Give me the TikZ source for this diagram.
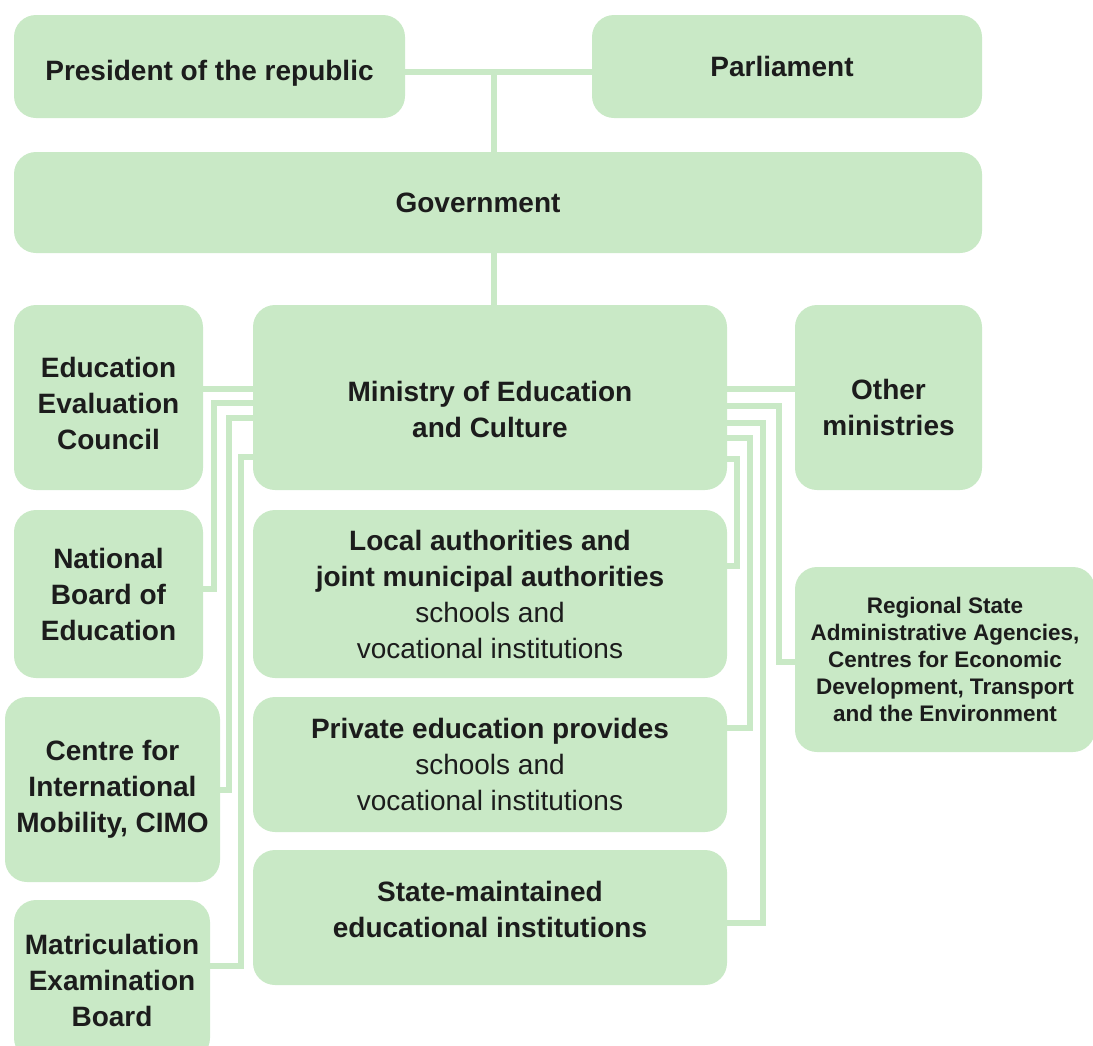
\documentclass[tikz,border=0pt]{standalone}
\usepackage{fontspec}
\setmainfont{Liberation Sans}
\usepackage{tikz}
\pgfdeclarelayer{bg}
\pgfsetlayers{bg,main}
\definecolor{boxgreen}{RGB}{201,233,198}
\definecolor{inkdark}{RGB}{28,28,28}
\tikzset{
    every node/.style={rectangle, rounded corners=22pt, fill=boxgreen, draw=none, inner sep=0mm, align=center, text=inkdark, font=\fontsize{28}{36}\selectfont\bfseries}
}
\tikzset{link/.style={draw=boxgreen, line width=6.5pt}}
\newcommand{\plaintxt}{\normalfont\fontsize{28}{35}\selectfont}
\newcommand{\pushdown}[1]{\rule{0pt}{#1}}
\newcommand{\pushup}[1]{\rule[-#1]{0pt}{#1}}

\begin{document}
\begin{tikzpicture}[x=1pt, y=-1pt]
        \useasboundingbox (0,0) rectangle (1093,1045);
        \node (pres) [minimum width=391, minimum height=103] at (209.5, 66.5) {\pushdown{34pt}President of the republic};
        \node (par) [minimum width=390, minimum height=103] at (787, 66.5) {Parliament\hspace*{10pt}};
        \node (gov) [minimum width=968, minimum height=101] at (498, 202.5) {Government\hspace*{40pt}};
        \node (eec) [minimum width=189, minimum height=185] at (108.5, 397.5) {\pushdown{32pt}Education\\Evaluation\\Council};
        \node (min) [minimum width=474, minimum height=185] at (490, 397.5) {\pushdown{44pt}Ministry of Education\\and Culture};
        \node (oth) [minimum width=187, minimum height=185] at (888.5, 397.5) {\pushdown{40pt}Other\\ministries};
        \node (nbe) [minimum width=189, minimum height=168] at (108.5, 594) {National\\Board of\\Education};
        \node (loc) [minimum width=474, minimum height=168] at (490, 594) {Local authorities and\\joint municipal authorities\\{\plaintxt schools and}\\{\plaintxt vocational institutions}};
        \node (reg) [minimum width=300, minimum height=185, font=\fontsize{22.5}{27}\selectfont\bfseries] at (945, 659.5) {Regional State\\Administrative Agencies,\\Centres for Economic\\Development, Transport\\and the Environment};
        \node (cimo) [minimum width=215, minimum height=185] at (112.5, 789.5) {Centre for\\International\\Mobility, CIMO};
        \node (priv) [minimum width=474, minimum height=135] at (490, 764.5) {Private education provides\\{\plaintxt schools and}\\{\plaintxt vocational institutions}};
        \node (state) [minimum width=474, minimum height=135] at (490, 917.5) {State-maintained\\educational institutions\pushup{16pt}};
        \node (meb) [minimum width=196, minimum height=160] at (112, 980) {Matriculation\\Examination\\Board};
        \coordinate (j) at (494, 72);
        \begin{pgfonlayer}{bg}
                % top
                \draw [link] (pres.east |- j) -- (par.west |- j);
                \draw [link] (j) -- (j |- gov.north);
                \draw [link] (gov.south -| j) -- (j |- min.north);
                % left side
                \draw [link] (eec.east |- 0,389) -- (min.west |- 0,389);
                \draw [link] (min.west |- 0,403) -- (214,403) |- (nbe.east |- 0,589);
                \draw [link] (min.west |- 0,418) -- (229,418) |- (cimo.east |- 0,790);
                \draw [link] (min.west |- 0,457) -- (241,457) |- (meb.east |- 0,966);
                % right side
                \draw [link] (min.east |- 0,389) -- (oth.west |- 0,389);
                \draw [link] (min.east |- 0,406) -- (779,406) |- (reg.west |- 0,662);
                \draw [link] (min.east |- 0,423) -- (763,423) |- (state.east |- 0,923);
                \draw [link] (min.east |- 0,438) -- (750,438) |- (priv.east |- 0,728);
                \draw [link] (min.east |- 0,459) -- (737,459) |- (loc.east |- 0,566);
        \end{pgfonlayer}
\end{tikzpicture}
\end{document}
